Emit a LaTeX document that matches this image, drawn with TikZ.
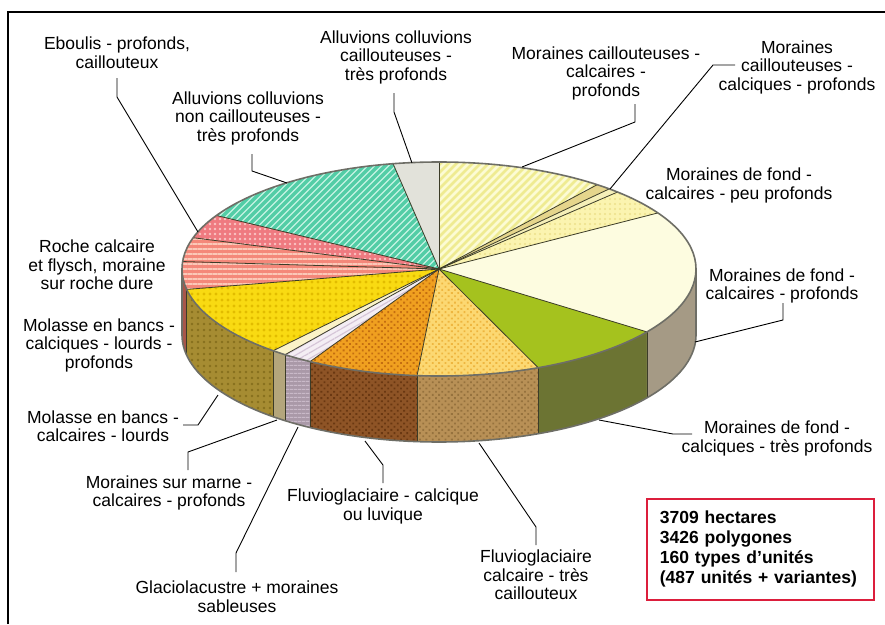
\documentclass[tikz,border=0pt]{standalone}
\usepackage{fontspec}
\setmainfont{Liberation Sans}
\usetikzlibrary{patterns,patterns.meta}
\definecolor{cCream}{HTML}{FDFCE0}
\definecolor{cCreamSide}{HTML}{A59A85}
\definecolor{cPaleDot}{HTML}{FBF4B0}
\definecolor{cPaleDotD}{HTML}{EDE08A}
\definecolor{cThinA}{HTML}{F5EFB8}
\definecolor{cThinB}{HTML}{E5D58C}
\definecolor{cHatchY}{HTML}{FCFBD4}
\definecolor{cHatchYD}{HTML}{EFEB92}
\definecolor{cGrey}{HTML}{E2E2DA}
\definecolor{cTealL}{HTML}{C4F3E2}
\definecolor{cTeal}{HTML}{52CDA6}
\definecolor{cPink}{HTML}{EF7A80}
\definecolor{cPinkL}{HTML}{F9C4C4}
\definecolor{cSalmon}{HTML}{F4887A}
\definecolor{cSalmonL}{HTML}{FBC8B8}
\definecolor{cSalmonSide}{HTML}{A9564A}
\definecolor{cYel}{HTML}{F9DA12}
\definecolor{cYelD}{HTML}{E2BC00}
\definecolor{cOlive}{HTML}{A68C32}
\definecolor{cOliveD}{HTML}{86701E}
\definecolor{cCreamT}{HTML}{FBF3C8}
\definecolor{cCreamTSide}{HTML}{B4A67C}
\definecolor{cLav}{HTML}{F4EEF4}
\definecolor{cLavD}{HTML}{D6C6D8}
\definecolor{cLavSide}{HTML}{AA99A8}
\definecolor{cLavSideL}{HTML}{C9B9C8}
\definecolor{cOrange}{HTML}{F0A020}
\definecolor{cOrangeD}{HTML}{C46E10}
\definecolor{cBrown}{HTML}{8E5426}
\definecolor{cBrownD}{HTML}{6A3812}
\definecolor{cYChk}{HTML}{FCD872}
\definecolor{cYChkD}{HTML}{EEB640}
\definecolor{cTan}{HTML}{B89056}
\definecolor{cTanD}{HTML}{96723E}
\definecolor{cGreen}{HTML}{A5C21E}
\definecolor{cGreenSide}{HTML}{6C7433}
\definecolor{cEdge}{HTML}{6E6E66}
\definecolor{cDiv}{HTML}{3C3C28}
\definecolor{cBoxRed}{HTML}{DC1E3C}
\newcommand\pietop[3]{\fill[#3] (C) -- plot[domain=#1:#2,samples=60] ({439+257*cos(\x)},{269-107*sin(\x)}) -- cycle;}
\newcommand\pieside[3]{\fill[#3] plot[domain=#1:#2,samples=40] ({439+257*cos(\x)},{269-107*sin(\x)}) -- plot[domain=#2:#1,samples=40] ({439+257*cos(\x)},{335-107*sin(\x)}) -- cycle;}
\newcommand\piestripes[6]{%
  \begin{scope}
    \clip (C) -- plot[domain=#1:#2,samples=60] ({439+257*cos(\x)},{269-107*sin(\x)}) -- cycle;
    \fill[#3] (150,140) rectangle (720,400);
    \foreach \i in {0,...,150} \draw[#4,line width=#5] ({-250+\i*#6},430) -- ++(320,-320);
  \end{scope}}
\begin{document}
\begin{tikzpicture}[x=1pt,y=-1pt,
  lbl/.style={align=center,font=\fontsize{17.5}{18.5}\selectfont,inner sep=0pt},
  leader/.style={draw=black,line width=0.9pt},
  div/.style={draw=cDiv,line width=0.8pt},
  edge/.style={draw=cEdge,line width=1.6pt},
  sPaleDot/.style={preaction={fill=cPaleDot},pattern={Dots[distance=5pt,radius=1.2pt]},pattern color=cPaleDotD},
  sPink/.style={preaction={fill=cPink},pattern={Dots[distance=5pt,radius=1.3pt]},pattern color=cPinkL},
  sSalmon/.style={preaction={fill=cSalmon},pattern={Lines[angle=0,distance=5pt,line width=1.6pt]},pattern color=cSalmonL},
  sYel/.style={preaction={fill=cYel},pattern={Dots[distance=6pt,radius=1.6pt]},pattern color=cYelD},
  sOlive/.style={preaction={fill=cOlive},pattern={Dots[distance=6pt,radius=1.4pt]},pattern color=cOliveD},
  sLav/.style={preaction={fill=cLav},pattern={Lines[angle=30,distance=5pt,line width=1.2pt]},pattern color=cLavD},
  sLavSide/.style={preaction={fill=cLavSide},pattern={Lines[angle=0,distance=4pt,line width=1.2pt]},pattern color=cLavSideL},
  sOrange/.style={preaction={fill=cOrange},pattern={Dots[distance=4.5pt,radius=1.3pt,angle=45]},pattern color=cOrangeD},
  sBrown/.style={preaction={fill=cBrown},pattern={Dots[distance=4.5pt,radius=1.3pt,angle=45]},pattern color=cBrownD},
  sYChk/.style={preaction={fill=cYChk},pattern={Dots[distance=4.5pt,radius=1.3pt,angle=45]},pattern color=cYChkD},
  sTan/.style={preaction={fill=cTan},pattern={Dots[distance=4.5pt,radius=1.3pt,angle=45]},pattern color=cTanD}
]
\useasboundingbox (0,0) rectangle (885,624);
\fill[white] (0,0) rectangle (885,624);
% frame
\draw[line width=2pt] (8,624) -- (8,12) -- (885,12);
\coordinate (C) at (439,269);
% side faces
\pieside{180}{191}{cSalmonSide}
\pieside{191}{229.8}{sOlive}
\pieside{229.8}{233.2}{cCreamTSide}
\pieside{233.2}{239.9}{sLavSide}
\pieside{239.9}{265.1}{sBrown}
\pieside{265.1}{292.7}{sTan}
\pieside{292.7}{324}{cGreenSide}
\pieside{324}{360}{cCreamSide}
% top faces
\pietop{-36}{31.6}{cCream}
\pietop{31.6}{46}{sPaleDot}
\pietop{46}{48.5}{cThinA}
\pietop{48.5}{52}{cThinB}
\piestripes{52}{90}{cHatchY}{cHatchYD}{2.6pt}{8}
\pietop{90}{100.3}{cGrey}
\piestripes{100.3}{150}{cTealL}{cTeal}{3.4pt}{7}
\pietop{150}{163}{sPink}
\pietop{163}{191}{sSalmon}
\pietop{191}{229.8}{sYel}
\pietop{229.8}{233.2}{cCreamT}
\pietop{233.2}{239.9}{sLav}
\pietop{239.9}{265.1}{sOrange}
\pietop{265.1}{292.7}{sYChk}
\pietop{292.7}{324}{cGreen}
% division lines
\foreach \a in {31.6,46,48.5,52,90,100.3,150,163,176,191,229.8,233.2,239.9,265.1,292.7,324}
  \draw[div] (C) -- ({439+257*cos(\a)},{269-107*sin(\a)});
\foreach \a in {191,229.8,233.2,239.9,265.1,292.7,324}
  \draw[div] ({439+257*cos(\a)},{269-107*sin(\a)}) -- ({439+257*cos(\a)},{335-107*sin(\a)});
% outline
\draw[edge] (C) ellipse [x radius=257,y radius=107];
\draw[edge] plot[domain=180:360,samples=90] ({439+257*cos(\x)},{335-107*sin(\x)});
\draw[edge] (182,269) -- (182,335);
\draw[edge] (696,269) -- (696,335);
% labels
\node[lbl] (eb) at (117,52.5) {Eboulis - profonds,\\caillouteux};
\node[lbl] (anc) at (248,118) {Alluvions colluvions\\non caillouteuses -\\très profonds};
\node[lbl] (ac) at (396,57) {Alluvions colluvions\\caillouteuses -\\très profonds};
\node[lbl] (mcc) at (606,73) {Moraines caillouteuses -\\calcaires -\\profonds};
\node[lbl] (mcq) at (797,67) {Moraines\\caillouteuses -\\calciques - profonds};
\node[lbl] (mfp) at (739,185.5) {Moraines de fond -\\calcaires - peu profonds};
\node[lbl] (mfc) at (782,286) {Moraines de fond -\\calcaires - profonds};
\node[lbl] (rc) at (97,265) {Roche calcaire\\et flysch, moraine\\sur roche dure};
\node[lbl] (mbq) at (99,345) {Molasse en bancs -\\calciques - lourds -\\profonds};
\node[lbl] (mbc) at (103,426) {Molasse en bancs -\\calcaires - lourds};
\node[lbl] (msm) at (169,493) {Moraines sur marne -\\calcaires - profonds};
\node[lbl] (gl) at (237,596.5) {Glaciolacustre + moraines\\sableuses};
\node[lbl] (fq) at (383,506.5) {Fluvioglaciaire - calcique\\ou luvique};
\node[lbl] (fc) at (536,575) {Fluvioglaciaire\\calcaire - très\\caillouteux};
\node[lbl] (mft) at (777,438.5) {Moraines de fond -\\calciques - très profonds};
% leader coordinates
\coordinate (eb1) at (117,78);  \coordinate (eb2) at (117,97);  \coordinate (eb3) at (198,232);
\coordinate (anc1) at (252,154); \coordinate (anc2) at (252,171); \coordinate (anc3) at (287,183);
\coordinate (ac1) at (394,93);  \coordinate (ac2) at (394,112); \coordinate (ac3) at (412,163);
\coordinate (mcc1) at (635,104); \coordinate (mcc2) at (635,122); \coordinate (mcc3) at (522,167);
\coordinate (mcq1) at (735,65); \coordinate (mcq2) at (713,65); \coordinate (mcq3) at (610,189);
\coordinate (mfc1) at (783,303); \coordinate (mfc2) at (783,320); \coordinate (mfc3) at (695,342);
\coordinate (mft1) at (692,434); \coordinate (mft2) at (673,434); \coordinate (mft3) at (599,420);
\coordinate (fc1) at (536,545); \coordinate (fc2) at (536,527); \coordinate (fc3) at (479,443);
\coordinate (fq1) at (383,483); \coordinate (fq2) at (383,465); \coordinate (fq3) at (365,441);
\coordinate (gl1) at (236,572); \coordinate (gl2) at (236,553); \coordinate (gl3) at (298,427);
\coordinate (msm1) at (188,470); \coordinate (msm2) at (188,452); \coordinate (msm3) at (277,420);
\coordinate (mbc1) at (183,425); \coordinate (mbc2) at (198,425); \coordinate (mbc3) at (218,395);
\foreach \n in {eb,anc,ac,mcc,mcq,mfc,mft,fc,fq,gl,msm,mbc}
  \draw[leader] (\n1) -- (\n2) -- (\n3);
% info box
\node[draw=cBoxRed,line width=1.8pt,anchor=north west,text width=201pt,align=left,
  inner xsep=13pt,inner ysep=0pt,minimum height=101pt,
  font=\fontsize{17.5}{20}\selectfont\bfseries] (box) at (646,498)
  {3709 hectares\\3426 polygones\\160 types d’unités\\(487 unités + variantes)};
\end{tikzpicture}
\end{document}
